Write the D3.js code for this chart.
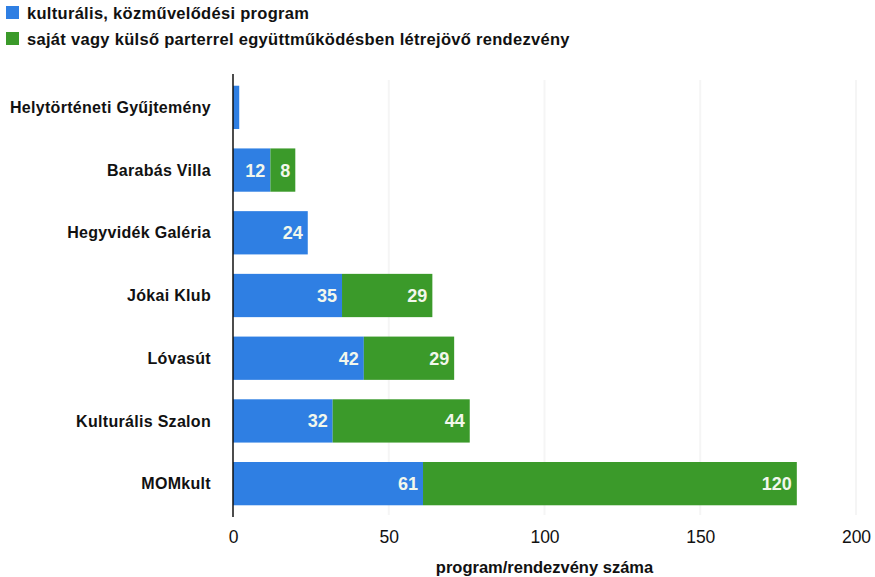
<!DOCTYPE html>
<html>
<head>
<meta charset="utf-8">
<script src="https://cdn.jsdelivr.net/npm/d3@7"></script>
<style>
  body { margin: 0; background: #fff; }
  text { font-family: "Liberation Sans", Arial, sans-serif; fill: #111; }
</style>
</head>
<body>
<svg id="chart" width="875" height="577"></svg>
<script>
// Data
const categories = ["Helytörténeti Gyűjtemény", "Barabás Villa", "Hegyvidék Galéria", "Jókai Klub", "Lóvasút", "Kulturális Szalon", "MOMkult"];
const culturalPrograms = [2, 12, 24, 35, 42, 32, 61];
const partnerEvents = [0, 8, 0, 29, 29, 44, 120];
const seriesNames = ["kulturális, közművelődési program", "saját vagy külső parterrel együttműködésben létrejövő rendezvény"];
const xTicks = [0, 50, 100, 150, 200];
const colors = ["#2f7fe3", "#3b9a2a"];

const svg = d3.select("#chart");

const xScale = d3.scaleLinear()
    .domain([0, 200])
    .range([233, 856]);

const yScale = d3.scaleBand()
    .domain(categories)
    .range([76, 515])
    .paddingInner(0.31)
    .paddingOuter(0.155);

// faint gridlines
svg.append("g")
    .selectAll("line")
    .data(xTicks.slice(1))
    .enter().append("line")
    .attr("x1", d => xScale(d))
    .attr("x2", d => xScale(d))
    .attr("y1", 80)
    .attr("y2", 515)
    .attr("stroke", "#f5f5f5")
    .attr("stroke-width", 2);

// stacked data
const rows = categories.map((c, i) => ({ cat: c, a: culturalPrograms[i], b: partnerEvents[i] }));

const bars = svg.append("g");
bars.selectAll(".blue")
    .data(rows)
    .enter().append("rect")
    .attr("x", xScale(0))
    .attr("y", d => yScale(d.cat))
    .attr("width", d => xScale(d.a) - xScale(0))
    .attr("height", yScale.bandwidth())
    .attr("fill", colors[0]);

bars.selectAll(".green")
    .data(rows.filter(d => d.b > 0))
    .enter().append("rect")
    .attr("x", d => xScale(d.a))
    .attr("y", d => yScale(d.cat))
    .attr("width", d => xScale(d.a + d.b) - xScale(d.a))
    .attr("height", yScale.bandwidth())
    .attr("fill", colors[1]);

// value labels inside segments
const labelData = [];
rows.forEach(d => {
    if (d.a >= 5) labelData.push({ cat: d.cat, end: d.a, v: d.a });
    if (d.b > 0) labelData.push({ cat: d.cat, end: d.a + d.b, v: d.b });
});
svg.append("g")
    .selectAll("text")
    .data(labelData)
    .enter().append("text")
    .attr("x", d => xScale(d.end) - 5)
    .attr("y", d => yScale(d.cat) + yScale.bandwidth() / 2)
    .attr("dy", "0.36em")
    .attr("text-anchor", "end")
    .style("fill", "#f2f7ec")
    .style("font-size", "18px")
    .style("font-weight", "bold")
    .text(d => d.v);

// category labels
svg.append("g")
    .selectAll("text")
    .data(categories)
    .enter().append("text")
    .attr("x", 211)
    .attr("y", d => yScale(d) + yScale.bandwidth() / 2)
    .attr("dy", "0.35em")
    .attr("text-anchor", "end")
    .style("font-size", "16px")
    .style("font-weight", "bold")
    .style("letter-spacing", "0.3px")
    .text(d => d);

// y axis line
svg.append("line")
    .attr("x1", xScale(0)).attr("x2", xScale(0))
    .attr("y1", 74).attr("y2", 517)
    .attr("stroke", "#111")
    .attr("stroke-width", 1.5);

// x axis tick labels
const xAxis = d3.axisBottom(xScale).tickValues(xTicks).tickSize(0).tickPadding(0);
const xg = svg.append("g")
    .attr("transform", "translate(0,531)")
    .call(xAxis);
xg.select(".domain").remove();
xg.selectAll("text")
    .style("font-size", "17.5px")
    .style("font-family", "'Liberation Sans', Arial, sans-serif")
    .attr("fill", "#111");

svg.append("text")
    .attr("x", xScale(100))
    .attr("y", 573)
    .attr("text-anchor", "middle")
    .style("font-size", "16.5px")
    .style("font-weight", "bold")
    .text("program/rendezvény száma");

// legend
const legend = svg.append("g");
seriesNames.forEach((name, i) => {
    legend.append("rect")
        .attr("x", 6).attr("y", 6 + i * 26)
        .attr("width", 13).attr("height", 13)
        .attr("fill", colors[i]);
    legend.append("text")
        .attr("x", 27).attr("y", 13 + i * 26)
        .attr("dy", "0.35em")
        .style("font-size", "16.5px")
        .style("font-weight", "bold")
        .style("letter-spacing", "0.3px")
        .text(name);
});
</script>
</body>
</html>
